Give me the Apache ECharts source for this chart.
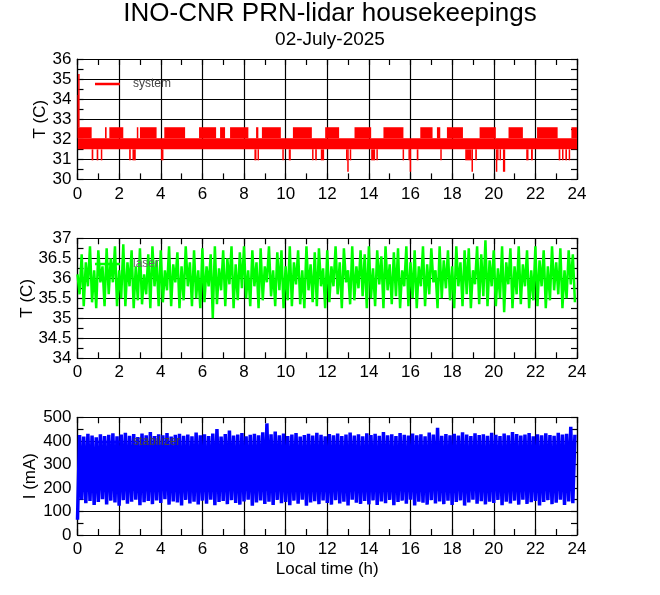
<!DOCTYPE html>
<html>
<head>
<meta charset="utf-8">
<script src="https://cdn.jsdelivr.net/npm/echarts@6/dist/echarts.min.js"></script>
<style>html,body{margin:0;padding:0;background:#fff}#c{width:660px;height:595px}</style>
</head>
<body>
<div id="c"></div>
<script>
// ---------- DATA ----------
const xTicks = [0, 24, 2]; // min, max, interval (hours)
// system temperature: filled ranges [tStart, tEnd, low, high]
const systemBase = [[0.02, 24, 31.5, 32.05]];
const systemStart = [[0, 0.03, 32.6, 34.2], [0.03, 0.07, 32.6, 35.25]];
const systemUpper = [
  [0.0, 0.68], [1.32, 1.40], [1.53, 2.20], [2.85, 2.92], [3.00, 3.80], [4.17, 5.17],
  [5.84, 6.66], [6.85, 7.09], [7.33, 8.21], [8.58, 8.69], [8.86, 9.77], [10.35, 11.26],
  [11.90, 12.57], [13.31, 14.11], [14.70, 15.66], [16.47, 17.06], [17.27, 17.43],
  [17.75, 18.52], [19.32, 20.10], [20.71, 21.40], [22.08, 23.07], [23.73, 24.0]
];
const systemDips = [
  [0.68, 0.76, 30.95], [0.92, 1.00, 30.95], [1.12, 1.19, 30.95], [2.48, 2.56, 30.95],
  [2.64, 2.80, 30.95], [4.01, 4.13, 30.95], [8.50, 8.60, 30.95], [8.65, 8.70, 30.95],
  [9.84, 9.90, 30.95], [10.15, 10.25, 30.95], [11.27, 11.33, 30.95], [11.42, 11.50, 30.95],
  [11.69, 11.85, 30.95], [12.90, 12.96, 30.95], [12.96, 13.02, 30.38], [13.08, 13.14, 30.95],
  [14.11, 14.30, 30.95], [14.36, 14.40, 30.95], [15.62, 15.68, 30.95], [15.90, 15.96, 30.95],
  [15.96, 16.02, 30.38], [16.30, 16.38, 30.95], [17.43, 17.50, 30.95], [18.63, 18.93, 30.95],
  [18.93, 19.00, 30.38], [19.11, 19.19, 30.95], [20.10, 20.16, 30.38], [20.16, 20.23, 30.95],
  [20.28, 20.33, 30.95], [20.44, 20.55, 30.38], [21.56, 21.67, 30.95], [21.79, 21.88, 30.95],
  [23.12, 23.20, 30.95], [23.28, 23.33, 30.95], [23.44, 23.52, 30.95], [23.60, 23.65, 30.95]
];
const systemLevels = [32.05, 32.6, 31.5]; // upper band low/high, dip top

// laser temperature, one sample every 0.1 h
const laserT = [
  36.1,35.6, 36.6,35.3, 36.4,35.8, 36.8,35.4, 36.2,35.25, 36.7,35.9, 36.3,35.3, 36.75,35.6, 36.5,35.9, 36.8,35.3,
  36.2,35.5, 36.85,35.3, 36.4,35.8, 36.7,35.25, 36.3,35.45, 36.75,35.35, 36.1,35.6, 36.6,35.25, 36.8,35.8, 36.45,35.3,
  36.7,35.4, 36.2,35.7, 36.8,35.3, 36.35,35.9, 36.65,35.25, 36.3,35.45, 36.8,35.8, 36.4,35.3, 36.7,35.5, 36.2,35.25,
  36.75,35.4, 36.3,35.8, 36.6,35.0, 36.8,35.35, 36.25,35.7, 36.7,35.3, 36.5,35.85, 36.8,35.25, 36.35,35.45, 36.65,35.75,
  36.8,35.5, 36.2,35.3, 36.7,35.8, 36.4,35.25, 36.75,35.45, 36.3,35.9, 36.8,35.55, 36.2,35.3, 36.65,35.7, 36.7,35.25,
  36.3,35.45, 36.8,35.3, 36.4,35.85, 36.7,35.35, 36.2,35.25, 36.8,35.7, 36.35,35.4, 36.65,35.3, 36.75,35.8, 36.25,35.25,
  36.7,35.4, 36.3,35.8, 36.8,35.6, 36.4,35.25, 36.75,35.9, 36.2,35.35, 36.8,35.45, 36.3,35.75, 36.7,35.55, 36.6,35.25,
  36.8,35.5, 36.25,35.3, 36.7,35.85, 36.55,35.25, 36.8,35.7, 36.35,35.35, 36.65,35.55, 36.75,35.25, 36.2,35.8, 36.8,35.3,
  36.4,35.5, 36.7,35.25, 36.3,35.8, 36.8,35.3, 36.35,35.6, 36.75,35.9, 36.2,35.25, 36.8,35.5, 36.45,35.75, 36.7,35.45,
  36.3,35.25, 36.8,35.8, 36.4,35.3, 36.7,35.6, 36.75,35.25, 36.2,35.85, 36.8,35.35, 36.6,35.55, 36.95,35.3, 36.45,35.8,
  36.7,35.3, 36.25,35.5, 36.8,35.15, 36.4,35.85, 36.75,35.25, 36.3,35.6, 36.8,35.35, 36.35,35.8, 36.7,35.25, 36.2,35.45,
  36.8,35.3, 36.45,35.8, 36.7,35.25, 36.3,35.45, 36.8,35.7, 36.4,35.6, 36.75,35.25, 36.2,35.5, 36.7,35.85, 36.6,35.4
];
// stabilizer current (mA), one sample every 0.1 h
const stabI = [
  65,425, 150,418, 135,430, 145,422, 128,415, 140,428, 152,420, 130,426, 146,432, 138,419,
  125,427, 148,434, 133,421, 142,429, 150,416, 127,431, 139,424, 145,437, 131,420, 147,428,
  136,423, 152,433, 129,418, 143,426, 138,430, 126,421, 149,427, 134,419, 141,435, 130,424,
  146,428, 133,420, 150,431, 127,450, 140,418, 145,429, 131,444, 148,422, 136,427, 129,433,
  143,419, 150,426, 125,430, 138,423, 147,436, 132,474, 141,428, 128,439, 149,424, 135,431,
  140,420, 127,427, 146,433, 133,418, 150,425, 124,430, 138,422, 144,434, 131,426, 147,419,
  136,429, 129,423, 148,431, 134,420, 141,427, 126,435, 150,422, 137,428, 132,419, 145,432,
  130,425, 147,430, 128,421, 143,437, 135,424, 149,428, 127,420, 140,433, 146,426, 133,422,
  150,431, 126,424, 141,428, 137,419, 129,435, 148,427, 134,455, 143,421, 131,429, 146,424,
  128,430, 140,422, 147,436, 125,427, 138,420, 150,432, 133,425, 144,428, 130,421, 142,434,
  136,426, 149,420, 127,431, 141,424, 134,437, 146,429, 129,422, 150,427, 132,433, 139,419,
  145,428, 126,423, 140,432, 148,425, 131,421, 137,434, 150,427, 128,430, 143,460, 135,426
];
const sampleStep = 0.1;
const yRanges = [[30, 36, 1], [34, 37, 0.5], [0, 500, 100]];
const seriesNames = ['system', 'laser', 'stabilizer'];
const yNames = ['T (C)', 'T (C)', 'I (mA)'];

// ---------- BUILD ----------
const FONT = 'Liberation Sans';
const systemRanges = []
  .concat(systemBase)
  .concat(systemUpper.map(s => [s[0], s[1], systemLevels[0], systemLevels[1]]))
  .concat(systemDips.map(d => [d[0], d[1], d[2], systemLevels[2]]))
  .concat(systemStart);
const laserData = laserT.map((v, i) => [i * sampleStep, v]);
const stabData = stabI.map((v, i) => [i * sampleStep, v]);

const grids = [
  {left: 77.5, right: 83, top: 59, height: 120.4},
  {left: 77.5, right: 83, top: 238.3, height: 120},
  {left: 77.5, right: 83, top: 417.3, height: 117.7}
];
const yNameGaps = [29, 42, 39];
const black = '#000';
const xAxes = [], yAxes = [];
grids.forEach((g, i) => {
  const common = {
    gridIndex: i, type: 'value', min: xTicks[0], max: xTicks[1], interval: xTicks[2],
    axisLine: {show: true, onZero: false, lineStyle: {color: black, width: 1.2}},
    axisTick: {show: true, inside: true, length: 6, lineStyle: {color: black, width: 1.2}},
    minorTick: {show: true, splitNumber: 2, length: 6, lineStyle: {color: black, width: 1.2}}
  };
  xAxes.push(Object.assign({}, common, {
    position: 'bottom',
    splitLine: {show: true, lineStyle: {color: black, width: 1.2}},
    axisLabel: {show: true, color: black, fontFamily: FONT, fontSize: 17, margin: 6},
    name: i === 2 ? 'Local time (h)' : '',
    nameLocation: 'middle', nameGap: 26, nameMoveOverlap: false,
    nameTextStyle: {color: black, fontFamily: FONT, fontSize: 17}
  }));
  xAxes.push(Object.assign({}, common, {
    position: 'top', splitLine: {show: false}, axisLabel: {show: false}
  }));
  const r = yRanges[i];
  const yc = {
    gridIndex: i, type: 'value', min: r[0], max: r[1], interval: r[2],
    axisLine: {show: true, onZero: false, lineStyle: {color: black, width: 1.2}},
    axisTick: {show: true, inside: true, length: 6, lineStyle: {color: black, width: 1.2}},
    minorTick: {show: true, splitNumber: 2, length: 6, lineStyle: {color: black, width: 1.2}}
  };
  yAxes.push(Object.assign({}, yc, {
    position: 'left',
    splitLine: {show: true, lineStyle: {color: black, width: 1.2}},
    axisLabel: {show: true, color: black, fontFamily: FONT, fontSize: 17, margin: 6},
    name: yNames[i], nameLocation: 'middle', nameGap: yNameGaps[i], nameRotate: 90, nameMoveOverlap: false,
    nameTextStyle: {color: black, fontFamily: FONT, fontSize: 17}
  }));
  yAxes.push(Object.assign({}, yc, {
    position: 'right', splitLine: {show: false}, axisLabel: {show: false}
  }));
});

const legendTops = [78, 258, 436];
const legendColors = ['#ff0000', '#00ff00', '#0000ff'];
const legendTextColors = ['#444', '#666', '#444'];
const legends = seriesNames.map((n, i) => ({
  data: [{name: n, icon: 'rect'}],
  left: 95, top: legendTops[i], orient: 'vertical', padding: 0,
  itemWidth: 25, itemHeight: 2.5, itemGap: 0,
  selectedMode: false,
  textStyle: {color: legendTextColors[i], fontFamily: FONT, fontSize: 12, padding: [0, 0, 0, 8]}
}));

const option = {
  animation: false,
  backgroundColor: '#fff',
  title: [
    {text: 'INO-CNR PRN-lidar housekeepings', left: 'center', top: -4,
     textStyle: {color: black, fontFamily: FONT, fontSize: 26, fontWeight: 'normal'}},
    {text: '02-July-2025', left: 'center', top: 25,
     textStyle: {color: black, fontFamily: FONT, fontSize: 19, fontWeight: 'normal'}}
  ],
  legend: legends,
  grid: grids,
  xAxis: xAxes,
  yAxis: yAxes,
  series: [
    {
      name: seriesNames[0], type: 'custom', xAxisIndex: 0, yAxisIndex: 0,
      itemStyle: {color: legendColors[0]},
      encode: {x: [0, 1], y: [2, 3]},
      data: systemRanges,
      renderItem: function (params, api) {
        const p0 = api.coord([api.value(0), api.value(3)]);
        const p1 = api.coord([api.value(1), api.value(2)]);
        const w = Math.max(p1[0] - p0[0], 1.5);
        return {type: 'rect', shape: {x: p0[0], y: p0[1], width: w, height: p1[1] - p0[1]},
                style: {fill: legendColors[0]}};
      }
    },
    {
      name: seriesNames[1], type: 'line', xAxisIndex: 2, yAxisIndex: 2,
      data: laserData, showSymbol: false, symbol: 'none',
      lineStyle: {color: legendColors[1], width: 2.5, join: 'bevel'}, itemStyle: {color: legendColors[1]}
    },
    {
      name: seriesNames[2], type: 'line', xAxisIndex: 4, yAxisIndex: 4,
      data: stabData, showSymbol: false, symbol: 'none',
      lineStyle: {color: legendColors[2], width: 3.5, join: 'bevel'}, itemStyle: {color: legendColors[2]}
    }
  ]
};
const chart = echarts.init(document.getElementById('c'), null, {renderer: 'canvas'});
chart.setOption(option);
</script>
</body>
</html>
